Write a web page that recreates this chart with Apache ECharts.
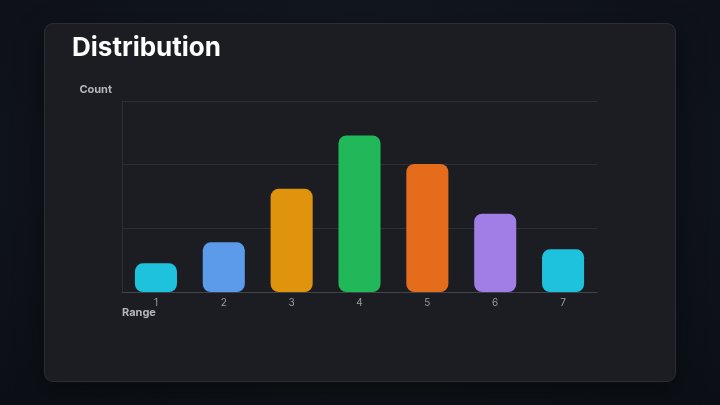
<!DOCTYPE html>
<html>
<head>
<meta charset="utf-8">
<script src="https://cdn.jsdelivr.net/npm/echarts@6/dist/echarts.min.js"></script>
<style>
  html, body { margin: 0; padding: 0; }
  body {
    width: 720px; height: 405px; overflow: hidden;
    background: radial-gradient(ellipse at 50% 40%, #161b23 0%, #10141b 60%, #0b0f15 100%);
    position: relative;
  }
  .card {
    position: absolute; left: 44px; top: 23px; width: 632px; height: 359px;
    background: #1b1d22; border: 1px solid #2a2d33; border-radius: 9px;
    box-sizing: border-box;
    box-shadow: 0 10px 30px rgba(0,0,0,0.45);
  }
  #chart { position: absolute; left: 0; top: 0; width: 630px; height: 357px; }
</style>
</head>
<body>
<div class="card"><div id="chart"></div></div>
<script>
// data
const categories = ['1', '2', '3', '4', '5', '6', '7']
const counts = [45, 78, 162, 246, 201, 123, 67]
const barColors = ['#1fc2dd', '#5b9be9', '#e0930c', '#21b85a', '#e46c1a', '#a07ee6', '#1fc2dd']

const chart = echarts.init(document.getElementById('chart'), null, { renderer: 'canvas' })

chart.setOption({
  backgroundColor: 'transparent',
  textStyle: { fontFamily: 'Inter, "Noto Sans", sans-serif' },
  title: {
    text: 'Distribution',
    left: 22,
    top: 6,
    textStyle: {
      color: '#ffffff',
      fontSize: 26,
      fontWeight: 700,
      fontFamily: 'Inter, "Noto Sans", sans-serif'
    }
  },
  grid: { left: 77, right: 78, top: 77, bottom: 89, containLabel: false },
  xAxis: {
    type: 'category',
    data: categories,
    name: 'Range',
    nameLocation: 'start',
    nameGap: 0,
    nameMoveOverlap: false,
    nameTextStyle: {
      color: '#b4b7bd',
      fontSize: 11,
      fontWeight: 700,
      align: 'left',
      verticalAlign: 'top',
      padding: [15, 0, 0, 0]
    },
    axisLine: { show: true, lineStyle: { color: '#41444b', width: 1 } },
    axisTick: { show: false },
    axisLabel: { color: '#9a9ea6', fontSize: 10, margin: 6 },
    splitLine: { show: false }
  },
  yAxis: {
    type: 'value',
    min: 0,
    max: 300,
    interval: 100,
    name: 'Count',
    nameLocation: 'end',
    nameGap: 11,
    nameTextStyle: {
      color: '#b4b7bd',
      fontSize: 11,
      fontWeight: 700,
      align: 'right',
      verticalAlign: 'middle',
      padding: [0, 10, 0, 0]
    },
    axisLine: { show: true, lineStyle: { color: '#2c2f35', width: 1 } },
    axisTick: { show: false },
    axisLabel: { show: false },
    splitLine: { show: true, lineStyle: { color: '#2c2f35', width: 1 } }
  },
  series: [
    {
      type: 'bar',
      barWidth: '62%',
      data: counts.map((v, i) => ({
        value: v,
        itemStyle: { color: barColors[i] }
      })),
      itemStyle: { borderRadius: 8 }
    }
  ]
})
</script>
</body>
</html>
